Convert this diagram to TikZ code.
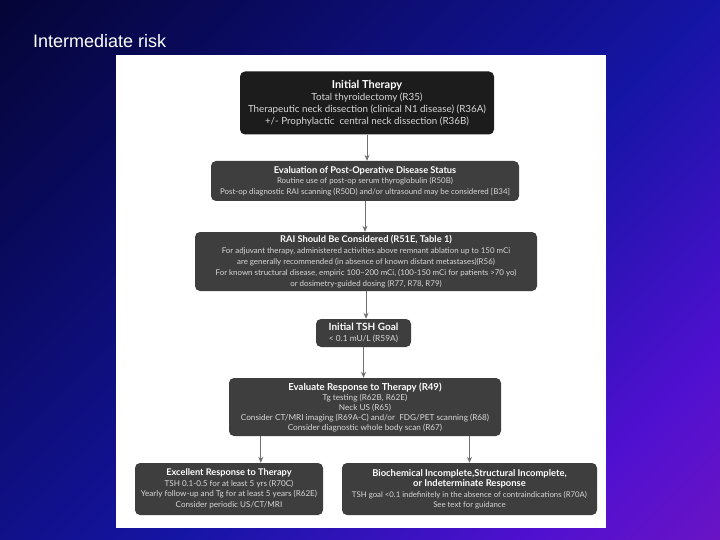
\documentclass[tikz,border=0pt]{standalone}
\usepackage{fontspec}
\setmainfont{Lato}
\newfontfamily\arialfont{Liberation Sans}
\usetikzlibrary{arrows.meta}
\definecolor{bgA}{HTML}{000010}
\definecolor{bgB}{HTML}{0A0A60}
\definecolor{bgC}{HTML}{1515A5}
\definecolor{bgD}{HTML}{5010D0}
\definecolor{bgE}{HTML}{7515C0}
\definecolor{bgF}{HTML}{8A3A9A}
\definecolor{boxdark}{HTML}{1C1C1C}
\definecolor{boxgray}{HTML}{3E3E3E}
\definecolor{boxtext}{HTML}{D8D8D8}
\definecolor{arrgray}{HTML}{707070}
\pgfdeclareverticalshading{bgshade}{100bp}{color(0bp)=(bgF); color(10bp)=(bgE); color(25bp)=(bgD); color(45bp)=(bgC); color(70bp)=(bgB); color(100bp)=(bgA)}
\tikzset{
  flowbox/.style={fill=boxgray, rounded corners=5pt, align=center, text=boxtext, inner sep=0pt},
  arr/.style={draw=arrgray, line width=0.8pt, -{Stealth[length=6pt,width=5pt]}}
}
\newcommand{\bt}[1]{\textcolor{white}{\textbf{#1}}}
\begin{document}
\begin{tikzpicture}[x=1pt,y=-1pt]
\useasboundingbox (0,0) rectangle (720,540);
\shade[shading=bgshade, shading angle=45] (0,0) rectangle (720,540);
\node[anchor=west, text=white, font=\arialfont\fontsize{18}{20}\selectfont, inner sep=0pt] (title) at (33,41) {Intermediate risk};
\fill[white] (116,55) rectangle (606,528);

\node[flowbox, fill=boxdark, minimum width=254pt, minimum height=63pt, font=\fontsize{9.8}{12}\selectfont] (b1) at (367,103)
 {{\fontsize{11}{12}\selectfont\bt{Initial Therapy}}\\Total thyroidectomy (R35)\\Therapeutic neck dissection (clinical N1 disease) (R36A)\\+/- Prophylactic\ \ central neck dissection (R36B)};

\node[flowbox, minimum width=308pt, minimum height=40pt, font=\fontsize{7.9}{10.5}\selectfont] (b2) at (365,181)
 {{\fontsize{9.3}{10.5}\selectfont\bt{Evaluation of Post-Operative Disease Status}}\\Routine use of post-op serum thyroglobulin (R50B)\\Post-op diagnostic RAI scanning (R50D) and/or ultrasound may be considered [B34]};

\node[flowbox, minimum width=342pt, minimum height=59pt, font=\fontsize{7.9}{11}\selectfont] (b3) at (366,261.5)
 {{\fontsize{9.3}{11}\selectfont\bt{RAI Should Be Considered (R51E, Table 1)}}\\For adjuvant therapy, administered activities above remnant ablation up to 150 mCi\\are generally recommended (in absence of known distant metastases)(R56)\\For known structural disease, empiric 100–200 mCi, (100-150 mCi for patients >70 yo)\\or dosimetry-guided dosing (R77, R78, R79)};

\node[flowbox, minimum width=95pt, minimum height=28pt, font=\fontsize{8.4}{10.5}\selectfont] (b4) at (363.5,333)
 {{\fontsize{10}{10.5}\selectfont\bt{Initial TSH Goal}}\\< 0.1 mU/L (R59A)};

\node[flowbox, minimum width=272pt, minimum height=58pt, font=\fontsize{8.2}{10}\selectfont] (b5) at (365,407)
 {{\fontsize{9.6}{10.5}\selectfont\bt{Evaluate Response to Therapy (R49)}}\\Tg testing (R62B, R62E)\\Neck US (R65)\\Consider CT/MRI imaging (R69A-C) and/or\ \ FDG/PET scanning (R68)\\Consider diagnostic whole body scan (R67)};

\node[flowbox, minimum width=188pt, minimum height=52pt, font=\fontsize{8.1}{10.5}\selectfont] (b6) at (229,489)
 {{\fontsize{9.2}{10.5}\selectfont\bt{Excellent Response to Therapy}}\\TSH 0.1-0.5 for at least 5 yrs (R70C)\\Yearly follow-up and Tg for at least 5 years (R62E)\\Consider periodic US/CT/MRI};

\node[flowbox, minimum width=255pt, minimum height=52pt, font=\fontsize{7.8}{10.5}\selectfont] (b7) at (469.5,489)
 {{\fontsize{9.4}{11.5}\selectfont\bt{Biochemical Incomplete,Structural Incomplete,}}\\{\fontsize{9.4}{11.5}\selectfont\bt{or Indeterminate Response}}\\TSH goal <0.1 indefinitely in the absence of contraindications (R70A)\\See text for guidance};

\draw[arr] (b1.south) -- (b1.south |- b2.north);
\draw[arr] (b2.south) -- (b2.south |- b3.north);
\draw[arr] (b3.south) -- (b3.south |- b4.north);
\draw[arr] (b4.south) -- (b4.south |- b5.north);
\coordinate (lstart) at ([xshift=32pt]b5.south west);
\draw[arr] (lstart) -- (lstart |- b6.north);
\draw[arr] (b5.south -| b7.north) -- (b7.north);
\end{tikzpicture}
\end{document}
